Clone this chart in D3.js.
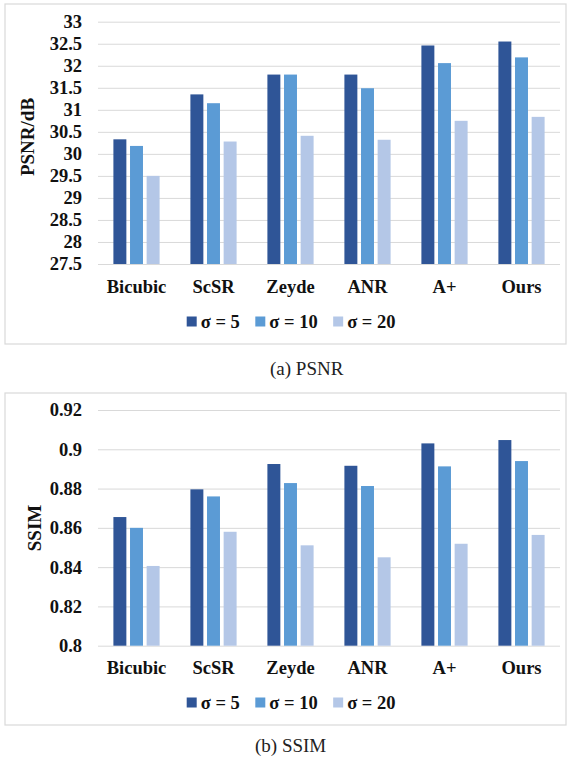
<!DOCTYPE html>
<html>
<head>
<meta charset="utf-8">
<script src="https://cdn.jsdelivr.net/npm/d3@7"></script>
<style>
  body { margin: 0; background: #fff; }
  text { font-family: "Liberation Serif", "Times New Roman", serif; }
</style>
</head>
<body>
<svg id="fig" width="570" height="766"></svg>
<script>
var methods = ["Bicubic", "ScSR", "Zeyde", "ANR", "A+", "Ours"];
var sigmas = ["σ = 5", "σ = 10", "σ = 20"];
var colors = ["#2F5597", "#5B9BD5", "#B4C7E7"];

// PSNR values per sigma
var psnr5  = [30.33, 31.35, 31.80, 31.80, 32.46, 32.55];
var psnr10 = [30.18, 31.15, 31.80, 31.49, 32.06, 32.19];
var psnr20 = [29.50, 30.28, 30.41, 30.32, 30.75, 30.84];
var psnrTicks = [27.5, 28, 28.5, 29, 29.5, 30, 30.5, 31, 31.5, 32, 32.5, 33];

// SSIM values per sigma
var ssim5  = [0.8655, 0.8796, 0.8925, 0.8916, 0.9030, 0.9047];
var ssim10 = [0.8600, 0.8760, 0.8828, 0.8813, 0.8913, 0.8940];
var ssim20 = [0.8406, 0.8580, 0.8511, 0.8450, 0.8519, 0.8564];
var ssimTicks = [0.8, 0.82, 0.84, 0.86, 0.88, 0.9, 0.92];

var svg = d3.select("#fig");
var fontsize = 18.5;

function makeRows(s5, s10, s20){
    return methods.map(function(m, i){
        return {method: m, vals: [s5[i], s10[i], s20[i]]};
    });
}

function drawPanel(opt){
    var g = svg.append("g");

    // panel frame
    g.append("rect")
        .attr("x", opt.frame[0]).attr("y", opt.frame[1])
        .attr("width", opt.frame[2]).attr("height", opt.frame[3])
        .attr("fill", "none").attr("stroke", "#D9D9D9").attr("stroke-width", 1.2);

    var yScale = d3.scaleLinear()
        .domain([opt.ticks[0], opt.ticks[opt.ticks.length - 1]])
        .range([opt.bottom, opt.top]);

    var x0 = d3.scaleBand().domain(methods)
        .range([98, 560]).paddingInner(0.4).paddingOuter(0.2);
    var x1 = d3.scaleBand().domain(d3.range(3))
        .range([0, x0.bandwidth()]).paddingInner(0.22);

    // grid lines + tick labels
    var yAxis = d3.axisLeft(yScale)
        .tickValues(opt.ticks)
        .tickSize(-462)
        .tickPadding(16)
        .tickFormat(function(d){ return String(d); });

    g.append("g").attr("transform", "translate(98,0)").call(yAxis)
        .call(function(s){ s.select(".domain").remove(); })
        .call(function(s){
            s.selectAll(".tick line").attr("stroke", "#D9D9D9");
            s.selectAll(".tick text")
                .attr("font-size", fontsize).attr("font-weight", "bold")
                .attr("font-family", "Liberation Serif").attr("fill", "#111")
                .attr("x", -16);
        });

    // bars
    var rows = makeRows(opt.s5, opt.s10, opt.s20);
    var groups = g.selectAll("g.cat").data(rows).join("g")
        .attr("class", "cat")
        .attr("transform", function(d){ return "translate(" + x0(d.method) + ",0)"; });
    groups.selectAll("rect").data(function(d){ return d.vals; }).join("rect")
        .attr("x", function(d, i){ return x1(i); })
        .attr("y", function(d){ return yScale(d); })
        .attr("width", x1.bandwidth())
        .attr("height", function(d){ return opt.bottom - yScale(d); })
        .attr("fill", function(d, i){ return colors[i]; });

    // category labels
    g.selectAll("text.cat").data(methods).join("text")
        .attr("class", "cat")
        .attr("x", function(d){ return x0(d) + x0.bandwidth() / 2; })
        .attr("y", opt.catY)
        .attr("dy", "0.35em")
        .attr("text-anchor", "middle")
        .attr("font-size", fontsize).attr("font-weight", "bold").attr("fill", "#111")
        .text(function(d){ return d; });

    // y axis title
    g.append("text")
        .attr("transform", "translate(" + opt.titleX + "," + opt.titleY + ")rotate(-90)")
        .attr("dy", "0.35em")
        .attr("text-anchor", "middle")
        .attr("font-size", 19).attr("font-weight", "bold").attr("fill", "#111")
        .text(opt.title);

    // legend
    var lx = 186.7;
    sigmas.forEach(function(s, i){
        g.append("rect")
            .attr("x", lx).attr("y", opt.legY - 5)
            .attr("width", 10).attr("height", 10)
            .attr("fill", colors[i]);
        var t = g.append("text")
            .attr("x", lx + 14).attr("y", opt.legY)
            .attr("dy", "0.35em")
            .attr("font-size", fontsize).attr("font-weight", "bold").attr("fill", "#111")
            .text(s);
        lx = lx + 14 + t.node().getComputedTextLength() + 15.5;
    });

    // caption
    svg.append("text")
        .attr("x", opt.capX).attr("y", opt.capY)
        .attr("dy", "0.35em")
        .attr("font-size", 19).attr("fill", "#222")
        .text(opt.caption);
}

drawPanel({
    frame: [5, 4, 561, 340],
    ticks: psnrTicks, top: 21.7, bottom: 264,
    s5: psnr5, s10: psnr10, s20: psnr20,
    catY: 287, legY: 321.5,
    title: "PSNR/dB", titleX: 27.5, titleY: 137,
    caption: "(a) PSNR", capX: 270, capY: 368
});

drawPanel({
    frame: [5, 393, 561, 332],
    ticks: ssimTicks, top: 410, bottom: 645.7,
    s5: ssim5, s10: ssim10, s20: ssim20,
    catY: 668, legY: 702.5,
    title: "SSIM", titleX: 34, titleY: 528,
    caption: "(b) SSIM", capX: 255, capY: 745
});
</script>
</body>
</html>
